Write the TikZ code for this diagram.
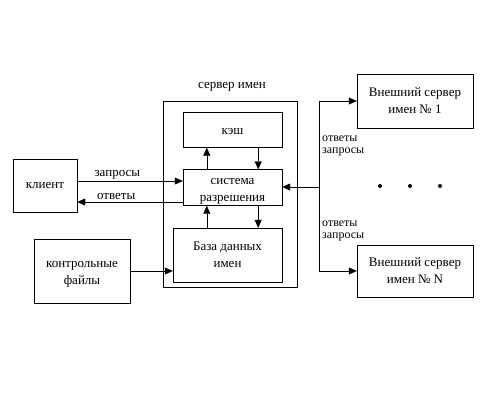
\documentclass[tikz,border=0pt]{standalone}
\usepackage{fontspec}
\setmainfont{Liberation Serif}
\usetikzlibrary{
  positioning,
  arrows.meta,
  calc
}
% подпорка для выравнивания первой строки
\newcommand{\lift}[1]{\rule{0pt}{#1}}

\begin{document}
\begin{tikzpicture}[
  x=1pt, y=-1pt,
  >={Triangle[length=8pt,width=7pt]},
  font=\fontsize{13}{17}\selectfont,
  box/.style={draw, align=center, inner sep=0pt},
  tight/.style={font=\fontsize{12}{12.5}\selectfont, align=left, anchor=west, inner sep=0pt}
]
  \useasboundingbox (0,0) rectangle (495,417);
  % сервер имен
  \node[box, minimum width=134pt, minimum height=186pt] (server) at (230,194) {};
  \node (srvname) at (232,87) {сервер имен};
  \node[box, minimum width=99pt, minimum height=35pt] (cache) at (232.5,130) {\lift{10pt}кэш};
  \node[box, minimum width=99pt, minimum height=36pt] (sys) at (232.5,187.5) {\lift{14pt}система\\разрешения};
  \node[box, minimum width=109pt, minimum height=54pt] (db) at (227.5,255) {База данных\\имен};
  % слева
  \node[box, minimum width=64pt, minimum height=53pt] (client) at (45,185.5) {клиент};
  \node[box, minimum width=96pt, minimum height=64pt] (files) at (82,271) {\lift{12pt}контрольные\\файлы};
  % справа
  \node[box, minimum width=116pt, minimum height=54pt] (ext1) at (415,101) {Внешний сервер\\имен № 1};
  \node[box, minimum width=116pt, minimum height=52pt] (extN) at (415,271) {Внешний сервер\\имен № N};

  \coordinate (up) at ([xshift=24pt]sys.north west);
  \coordinate (dn) at ([xshift=-24pt]sys.north east);
  \draw[->] (up) -- (up |- cache.south);
  \draw[->] (dn |- cache.south) -- (dn);
  \draw[->] (up |- db.north) -- (up |- sys.south);
  \draw[->] (dn |- sys.south) -- (dn |- db.north);

  \coordinate (q1) at ([yshift=4.5pt]client.east);
  \coordinate (a1) at ([yshift=-16.5pt]client.east);
  \draw[->] (q1) -- (q1 -| sys.west) node[pos=0.38, above, inner sep=2pt] {запросы};
  \draw[<-] (a1) -- (a1 -| sys.west) node[pos=0.37, above, inner sep=2pt] {ответы};
  \draw[->] (files.east) -- (files.east -| db.west);

  \coordinate (bus) at (319,187);
  \draw[->] (bus) -- (bus -| sys.east);
  \draw[->] (bus) |- (ext1.west);
  \draw[->] (bus) |- (extN.west);
  \node[tight] (lbl1) at (322,146) {ответы\\запросы};
  \node[tight] (lbl2) at (322,231) {ответы\\запросы};
  \foreach \x in {380,410,440}
    \fill (\x,186) circle (2);
\end{tikzpicture}
\end{document}
